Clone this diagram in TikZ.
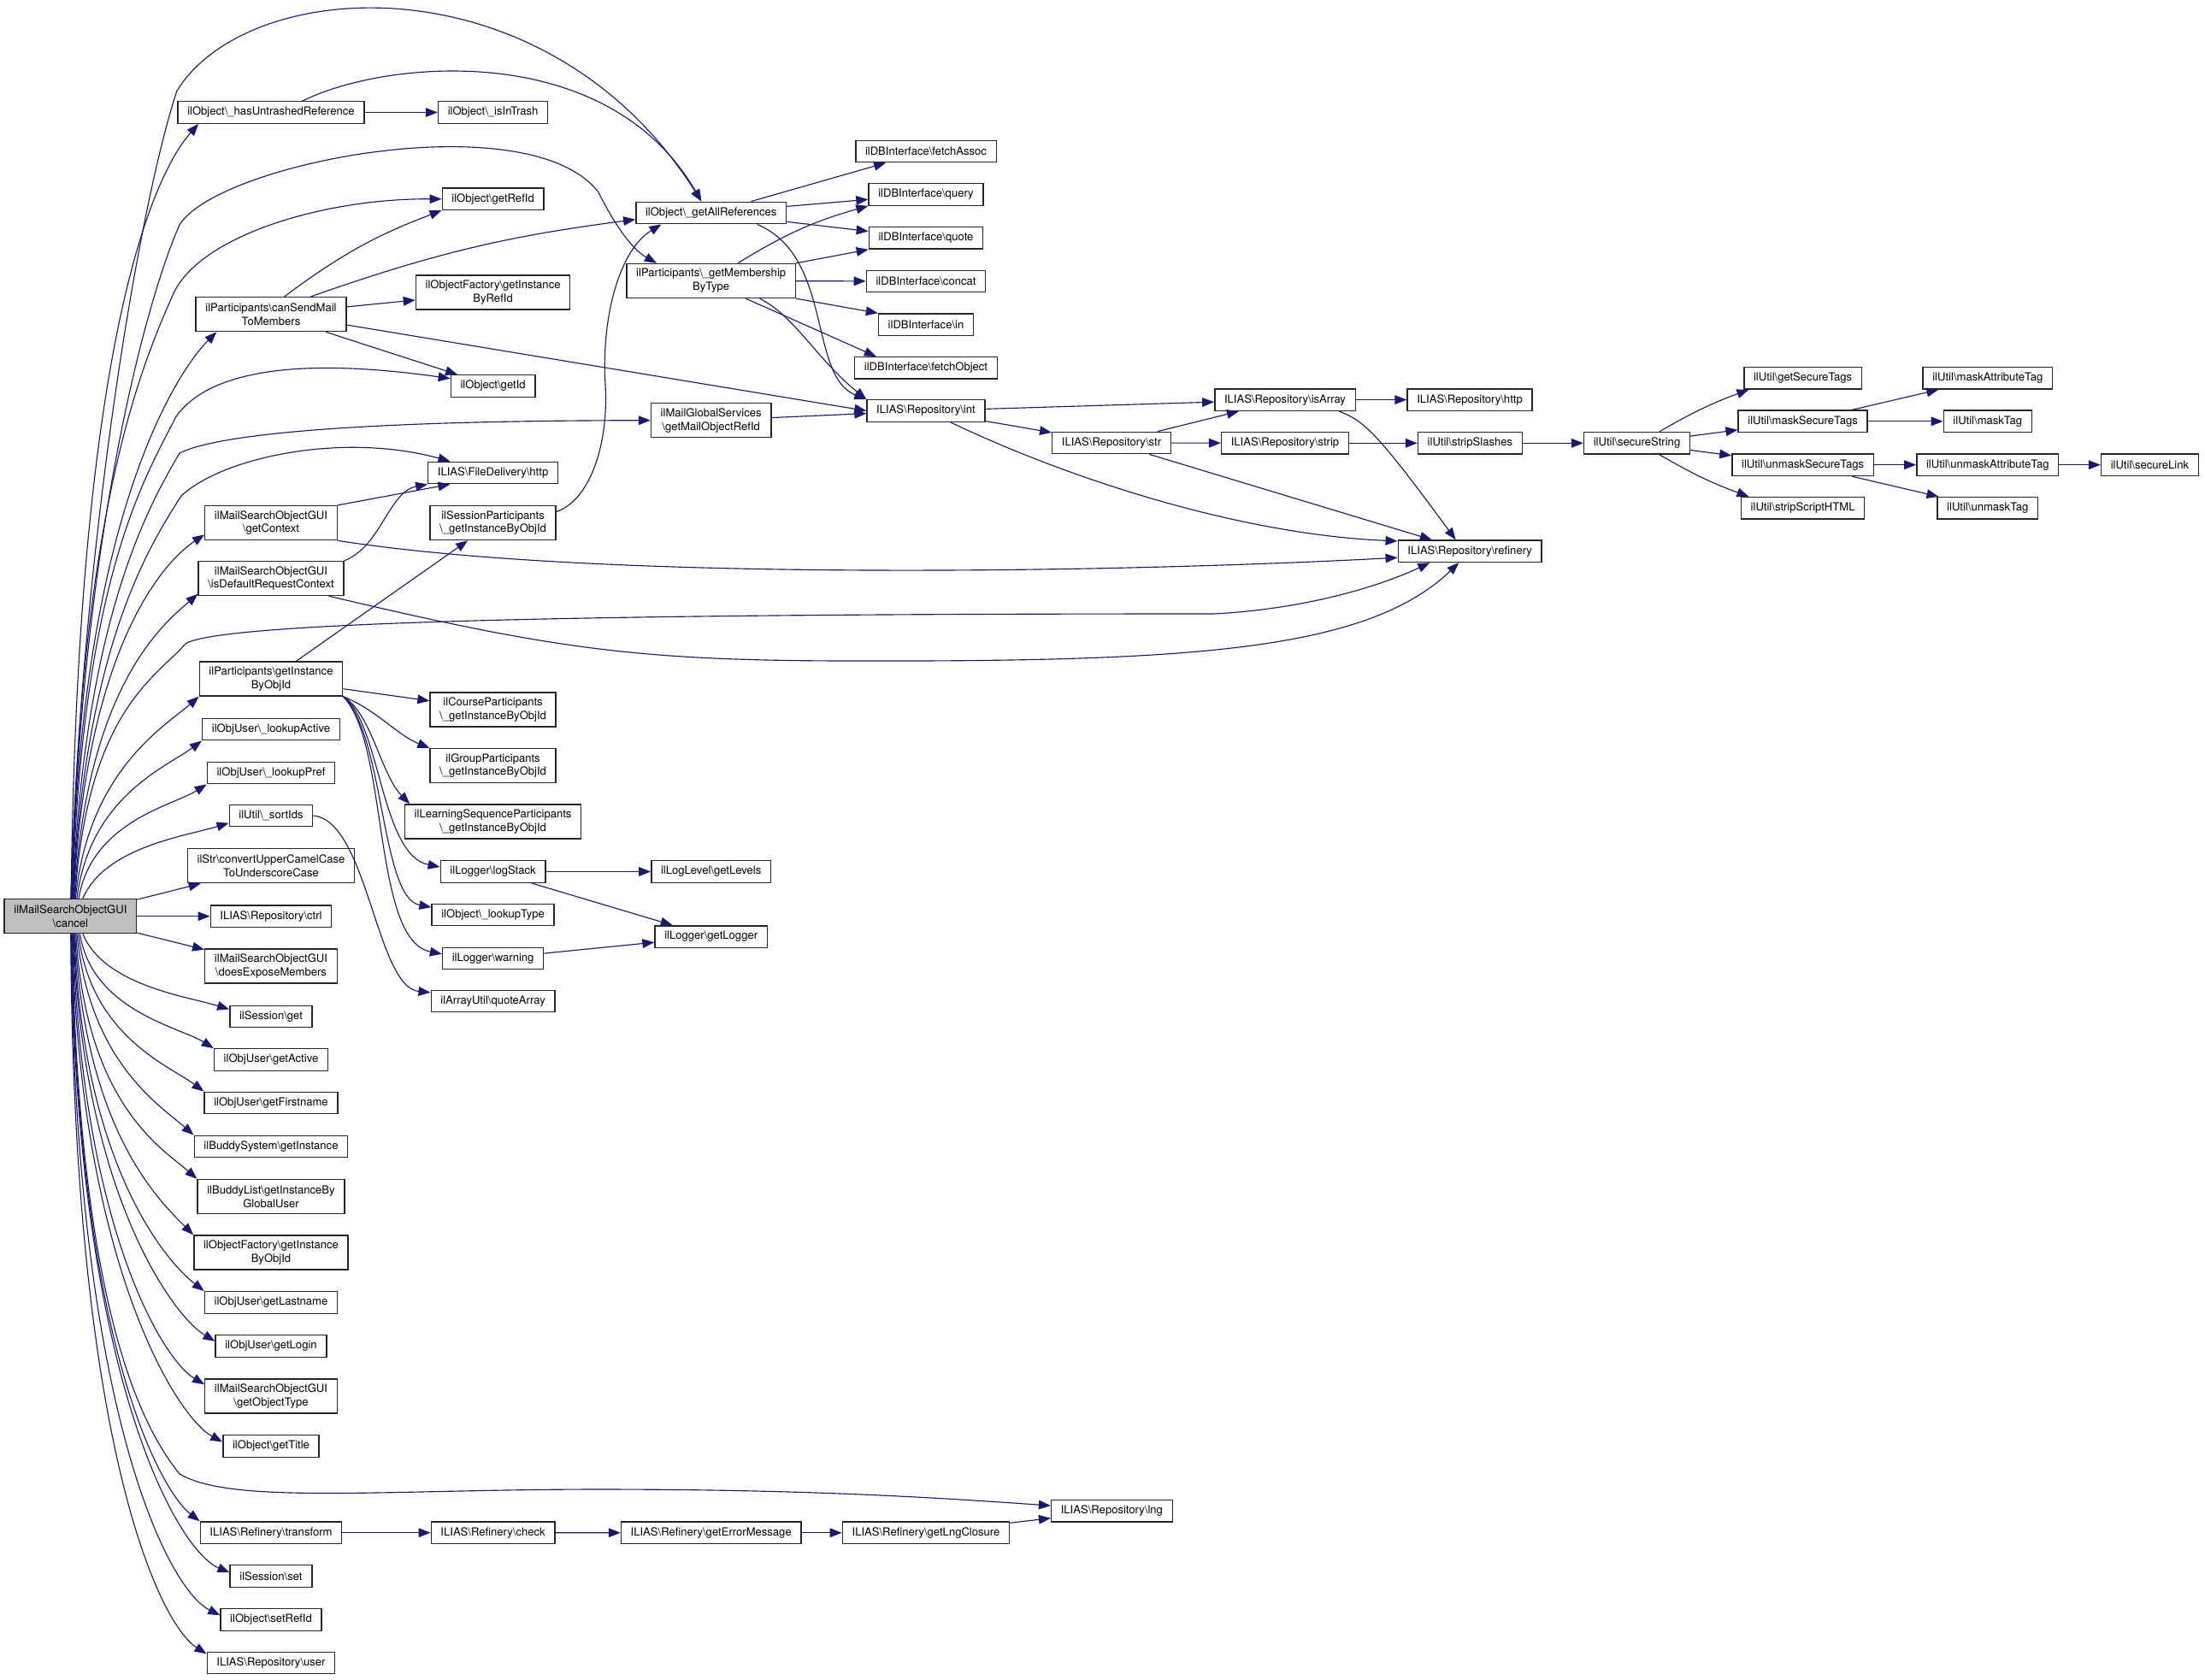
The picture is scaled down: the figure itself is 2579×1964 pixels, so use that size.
\documentclass[tikz,border=0pt]{standalone}
\usepackage{fontspec}
\setmainfont{TeX Gyre Heros}
\usetikzlibrary{arrows.meta}
\definecolor{edgeBlue}{RGB}{25,25,112}
\definecolor{rootGray}{RGB}{191,191,191}
\newcommand\nsSep{\textbackslash}

\begin{document}
\begin{tikzpicture}[x=0.75pt,y=-0.75pt,
  funcBox/.style={draw=black!85, line width=1.05pt, fill=white, inner xsep=8.4pt, inner ysep=2pt,
    minimum height=19.1pt, align=center, font=\fontsize{9.8}{11.8}\selectfont},
  funcBoxTwo/.style={funcBox, minimum height=30pt},
  callEdge/.style={draw=edgeBlue, line width=0.85pt, -{Triangle[length=10.5pt,width=8pt]}},
]
\useasboundingbox (0,0) rectangle (2579,1964);

% column 0 and 1
\node[funcBoxTwo, fill=rootGray] (cancel) at (82.4,1071.7) {ilMailSearchObjectGUI\\\nsSep cancel};
\node[funcBox] (hasUntrashed) at (317,131.5) {ilObject\nsSep\_hasUntrashedReference};
\node[funcBoxTwo] (canSendMail) at (317,367.6) {ilParticipants\nsSep canSendMail\\ToMembers};
\node[funcBoxTwo] (getContext) at (317,611.6) {ilMailSearchObjectGUI\\\nsSep getContext};
\node[funcBoxTwo] (isDefault) at (317,676.5) {ilMailSearchObjectGUI\\\nsSep isDefaultRequestContext};
\node[funcBoxTwo] (partInstance) at (317,794) {ilParticipants\nsSep getInstance\\ByObjId};
\node[funcBox] (lookupActive) at (317,853) {ilObjUser\nsSep\_lookupActive};
\node[funcBox] (lookupPref) at (317,904) {ilObjUser\nsSep\_lookupPref};
\node[funcBox] (sortIds) at (317,954) {ilUtil\nsSep\_sortIds};
\node[funcBoxTwo] (convertCase) at (317,1012.7) {ilStr\nsSep convertUpperCamelCase\\ToUnderscoreCase};
\node[funcBox] (repoCtrl) at (317,1071.7) {ILIAS\nsSep Repository\nsSep ctrl};
\node[funcBoxTwo] (exposeMembers) at (317,1130) {ilMailSearchObjectGUI\\\nsSep doesExposeMembers};
\node[funcBox] (sessionGet) at (317,1189) {ilSession\nsSep get};
\node[funcBox] (getActive) at (317,1239.5) {ilObjUser\nsSep getActive};
\node[funcBox] (getFirstname) at (317,1290) {ilObjUser\nsSep getFirstname};
\node[funcBox] (buddySystem) at (317,1341) {ilBuddySystem\nsSep getInstance};
\node[funcBoxTwo] (buddyList) at (317,1399.5) {ilBuddyList\nsSep getInstanceBy\\GlobalUser};
\node[funcBoxTwo] (factoryObjId) at (317,1465) {ilObjectFactory\nsSep getInstance\\ByObjId};
\node[funcBox] (getLastname) at (317,1523.5) {ilObjUser\nsSep getLastname};
\node[funcBox] (getLogin) at (317,1574.5) {ilObjUser\nsSep getLogin};
\node[funcBoxTwo] (getObjectType) at (317,1633) {ilMailSearchObjectGUI\\\nsSep getObjectType};
\node[funcBox] (getTitle) at (317,1691.5) {ilObject\nsSep getTitle};
\node[funcBox] (refTransform) at (317,1792.7) {ILIAS\nsSep Refinery\nsSep transform};
\node[funcBox] (sessionSet) at (317,1843.5) {ilSession\nsSep set};
\node[funcBox] (setRefId) at (317,1894.5) {ilObject\nsSep setRefId};
\node[funcBox] (repoUser) at (317,1945) {ILIAS\nsSep Repository\nsSep user};

% column 2
\node[funcBox] (isInTrash) at (576.6,131.5) {ilObject\nsSep\_isInTrash};
\node[funcBox] (getRefId) at (576.6,232.8) {ilObject\nsSep getRefId};
\node[funcBoxTwo] (factoryRefId) at (576.6,342) {ilObjectFactory\nsSep getInstance\\ByRefId};
\node[funcBox] (getId) at (576.6,451.5) {ilObject\nsSep getId};
\node[funcBox] (fileHttp) at (576.6,553) {ILIAS\nsSep FileDelivery\nsSep http};
\node[funcBoxTwo] (sessionPart) at (576.6,611.6) {ilSessionParticipants\\\nsSep\_getInstanceByObjId};
\node[funcBoxTwo] (courseInstance) at (576.6,830) {ilCourseParticipants\\\nsSep\_getInstanceByObjId};
\node[funcBoxTwo] (groupInstance) at (576.6,895.5) {ilGroupParticipants\\\nsSep\_getInstanceByObjId};
\node[funcBoxTwo] (lsoInstance) at (576.6,961) {ilLearningSequenceParticipants\\\nsSep\_getInstanceByObjId};
\node[funcBox] (logStack) at (576.6,1019.5) {ilLogger\nsSep logStack};
\node[funcBox] (lookupType) at (576.6,1070) {ilObject\nsSep\_lookupType};
\node[funcBox] (logWarning) at (576.6,1121) {ilLogger\nsSep warning};
\node[funcBox] (quoteArray) at (576.6,1171) {ilArrayUtil\nsSep quoteArray};
\node[funcBox] (refCheck) at (576.6,1792.7) {ILIAS\nsSep Refinery\nsSep check};

% column 3
\node[funcBox] (getAllRefs) at (831.7,249) {ilObject\nsSep\_getAllReferences};
\node[funcBoxTwo] (membership) at (831.7,328.5) {ilParticipants\nsSep\_getMembership\\ByType};
\node[funcBoxTwo] (mailServices) at (831.7,491.7) {ilMailGlobalServices\\\nsSep getMailObjectRefId};
\node[funcBox] (getLevels) at (831.7,1019.5) {ilLogLevel\nsSep getLevels};
\node[funcBox] (getLogger) at (831.7,1095.6) {ilLogger\nsSep getLogger};
\node[funcBox] (errorMessage) at (831.7,1792.8) {ILIAS\nsSep Refinery\nsSep getErrorMessage};

% column 4
\node[funcBox] (fetchAssoc) at (1083,177) {ilDBInterface\nsSep fetchAssoc};
\node[funcBox] (dbQuery) at (1083,227.5) {ilDBInterface\nsSep query};
\node[funcBox] (dbQuote) at (1083,278.4) {ilDBInterface\nsSep quote};
\node[funcBox] (dbConcat) at (1083,329) {ilDBInterface\nsSep concat};
\node[funcBox] (dbIn) at (1083,379.7) {ilDBInterface\nsSep in};
\node[funcBox] (fetchObject) at (1083,430.4) {ilDBInterface\nsSep fetchObject};
\node[funcBox] (repoInt) at (1083,480.5) {ILIAS\nsSep Repository\nsSep int};
\node[funcBox] (lngClosure) at (1083,1792.8) {ILIAS\nsSep Refinery\nsSep getLngClosure};

% columns 5 to 11
\node[funcBox] (repoStr) at (1300,518) {ILIAS\nsSep Repository\nsSep str};
\node[funcBox] (repoLng) at (1300.4,1767.3) {ILIAS\nsSep Repository\nsSep lng};
\node[funcBox] (isArray) at (1503,467.6) {ILIAS\nsSep Repository\nsSep isArray};
\node[funcBox] (repoStrip) at (1503,518.3) {ILIAS\nsSep Repository\nsSep strip};
\node[funcBox] (repoHttp) at (1719,467.6) {ILIAS\nsSep Repository\nsSep http};
\node[funcBox] (stripSlashes) at (1719.4,518.3) {ilUtil\nsSep stripSlashes};
\node[funcBox] (refinery) at (1719.2,644.8) {ILIAS\nsSep Repository\nsSep refinery};
\node[funcBox] (secureString) at (1914.5,518.3) {ilUtil\nsSep secureString};
\node[funcBox] (getSecureTags) at (2108.6,442.3) {ilUtil\nsSep getSecureTags};
\node[funcBox] (maskSecureTags) at (2108.6,492.8) {ilUtil\nsSep maskSecureTags};
\node[funcBox] (unmaskSecureTags) at (2108.6,543.7) {ilUtil\nsSep unmaskSecureTags};
\node[funcBox] (stripScript) at (2108.6,594.3) {ilUtil\nsSep stripScriptHTML};
\node[funcBox] (maskAttr) at (2324.8,442.3) {ilUtil\nsSep maskAttributeTag};
\node[funcBox] (maskTag) at (2324.8,492.8) {ilUtil\nsSep maskTag};
\node[funcBox] (unmaskAttr) at (2324.8,543.7) {ilUtil\nsSep unmaskAttributeTag};
\node[funcBox] (unmaskTag) at (2324.8,594.3) {ilUtil\nsSep unmaskTag};
\node[funcBox] (secureLink) at (2514.4,543.7) {ilUtil\nsSep secureLink};

% calls from cancel, upwards
\draw[callEdge] (cancel.89) .. controls (95,650) and (160,250) .. (206.7,106.7)
  .. controls (290,-30) and (640,-50) .. (getAllRefs.130);
\draw[callEdge] (cancel.88) .. controls +(8,-700) and +(-40,45) .. (hasUntrashed.189);
\draw[callEdge] (cancel.87) .. controls +(12,-420) and +(-40,90) .. (210,263)
  .. controls (255,190) and (620,120) .. (700,225)
  .. controls (720,265) and (740,292) .. (membership.162);
\draw[callEdge] (cancel.86) .. controls +(10,-450) and +(-40,90) .. (203,343)
  .. controls (235,275) and (380,232) .. (getRefId.west);
\draw[callEdge] (cancel.85) .. controls +(10,-450) and +(-45,45) .. (canSendMail.198);
\draw[callEdge] (cancel.84) .. controls +(12,-380) and +(-35,70) .. (206,487)
  .. controls (240,440) and (330,415) .. (getId.170);
\draw[callEdge] (cancel.83) .. controls +(14,-330) and +(-35,60) .. (210,530)
  .. controls (260,505) and (450,492) .. (mailServices.west);
\draw[callEdge] (cancel.82) .. controls +(15,-300) and +(-35,55) .. (212,580)
  .. controls (260,535) and (400,505) .. (fileHttp.165);
\draw[callEdge] (cancel.80) .. controls +(15,-300) and +(-45,30) .. (getContext.190);
\draw[callEdge] (cancel.78) .. controls +(15,-250) and +(-40,35) .. (isDefault.192);
\draw[callEdge] (cancel.76) .. controls +(15,-220) and +(-35,40) .. (217,753)
  .. controls (265,720) and (1000,718) .. (1420,718)
  .. controls (1530,712) and (1615,685) .. (refinery.196);
\draw[callEdge] (cancel.74) .. controls +(15,-150) and +(-40,35) .. (partInstance.south west);
\draw[callEdge] (cancel.70) .. controls +(15,-120) and +(-40,30) .. (lookupActive.south west);
\draw[callEdge] (cancel.65) .. controls +(15,-90) and +(-40,25) .. (lookupPref.south west);
\draw[callEdge] (cancel.55) .. controls +(25,-60) and +(-50,15) .. (sortIds.190);
\draw[callEdge] (cancel) -- (convertCase);
\draw[callEdge] (cancel) -- (repoCtrl);
\draw[callEdge] (cancel) -- (exposeMembers);

% calls from cancel, downwards
\draw[callEdge] (cancel.-55) .. controls +(25,60) and +(-50,-15) .. (sessionGet.170);
\draw[callEdge] (cancel.-62) .. controls +(15,90) and +(-40,-25) .. (getActive.north west);
\draw[callEdge] (cancel.-66) .. controls +(15,120) and +(-40,-30) .. (getFirstname.north west);
\draw[callEdge] (cancel.-70) .. controls +(15,150) and +(-40,-35) .. (buddySystem.north west);
\draw[callEdge] (cancel.-73) .. controls +(12,200) and +(-40,-35) .. (buddyList.north west);
\draw[callEdge] (cancel.-76) .. controls +(12,230) and +(-40,-40) .. (factoryObjId.north west);
\draw[callEdge] (cancel.-78) .. controls +(10,270) and +(-45,-35) .. (getLastname.north west);
\draw[callEdge] (cancel.-80) .. controls +(10,300) and +(-50,-30) .. (getLogin.175);
\draw[callEdge] (cancel.-82) .. controls +(10,340) and +(-50,-30) .. (getObjectType.170);
\draw[callEdge] (cancel.-84) .. controls +(8,380) and +(-55,-30) .. (getTitle.175);
\draw[callEdge] (cancel.-85) .. controls +(8,450) and +(-40,-50) .. (210,1724)
  .. controls (270,1760) and (450,1742) .. (700,1742)
  .. controls (950,1742) and (1100,1752) .. (repoLng.175);
\draw[callEdge] (cancel.-86) .. controls +(6,480) and +(-45,-35) .. (refTransform.north west);
\draw[callEdge] (cancel.-87) .. controls +(5,520) and +(-60,-25) .. (sessionSet.175);
\draw[callEdge] (cancel.-88) .. controls +(4,560) and +(-60,-30) .. (setRefId.175);
\draw[callEdge] (cancel.-89) .. controls +(3,600) and +(-55,-35) .. (repoUser.172);

% column 1 calls
\draw[callEdge] (hasUntrashed) -- (isInTrash);
\draw[callEdge] (hasUntrashed.20) .. controls (450,70) and (710,45) .. (getAllRefs.130);
\draw[callEdge] (canSendMail.53) to[bend left=8] (getRefId.south west);
\draw[callEdge] (canSendMail.24) to[bend left=6] (getAllRefs.185);
\draw[callEdge] (canSendMail) -- (factoryRefId);
\draw[callEdge] (canSendMail.-8) -- (repoInt.west);
\draw[callEdge] (canSendMail) -- (getId);
\draw[callEdge] (getContext.north east) -- (fileHttp.195);
\draw[callEdge] (getContext.south east) .. controls (700,680) and (1300,670) .. (refinery.185);
\draw[callEdge] (isDefault.north east) .. controls (445,640) and (455,575) .. (fileHttp.south west);
\draw[callEdge] (isDefault.343) .. controls (650,760) and (750,773) .. (1000,773)
  .. controls (1400,774) and (1600,760) .. (refinery.226);
\draw[callEdge] (partInstance) -- (sessionPart);
\draw[callEdge] (partInstance) -- (courseInstance);
\draw[callEdge] (partInstance.south east) .. controls (440,830) and (465,860) .. (groupInstance.north west);
\draw[callEdge] (partInstance.south east) .. controls (435,835) and (445,905) .. (lsoInstance.168);
\draw[callEdge] (partInstance.south east) .. controls (445,845) and (445,1000) .. (logStack.175);
\draw[callEdge] (partInstance.south east) .. controls (450,860) and (445,1050) .. (lookupType.173);
\draw[callEdge] (partInstance.south east) .. controls (455,870) and (435,1100) .. (logWarning.175);
\draw[callEdge] (sortIds.east) .. controls (430,960) and (440,1155) .. (quoteArray.172);

% column 2 calls
\draw[callEdge] (sessionPart.10) .. controls (690,585) and (712,520) .. (708,450)
  .. controls (703,370) and (725,292) .. (getAllRefs.193);
\draw[callEdge] (logStack) -- (getLevels);
\draw[callEdge] (logStack) -- (getLogger);
\draw[callEdge] (logWarning) -- (getLogger);
\draw[callEdge] (refTransform) -- (refCheck);

% column 3 calls
\draw[callEdge] (getAllRefs) -- (fetchAssoc);
\draw[callEdge] (getAllRefs) -- (dbQuery);
\draw[callEdge] (getAllRefs) -- (dbQuote);
\draw[callEdge] (getAllRefs.-14) .. controls (975,300) and (945,440) .. (repoInt.north west);
\draw[callEdge] (membership) to[bend left=8] (dbQuery.south west);
\draw[callEdge] (membership.north east) -- (dbQuote.south west);
\draw[callEdge] (membership) -- (dbConcat);
\draw[callEdge] (membership.south east) -- (dbIn.north west);
\draw[callEdge] (membership.-27) -- (fetchObject.167);
\draw[callEdge] (membership.-20) .. controls (930,370) and (955,420) .. (repoInt.north west);
\draw[callEdge] (mailServices) -- (repoInt);
\draw[callEdge] (refCheck) -- (errorMessage);
\draw[callEdge] (errorMessage) -- (lngClosure);
\draw[callEdge] (lngClosure) -- (repoLng);

% repository and util calls
\draw[callEdge] (repoInt) -- (isArray);
\draw[callEdge] (repoInt) -- (repoStr);
\draw[callEdge] (repoInt.-25) .. controls (1250,560) and (1450,625) .. (refinery.172);
\draw[callEdge] (repoStr) -- (isArray);
\draw[callEdge] (repoStr) -- (repoStrip);
\draw[callEdge] (repoStr) -- (refinery);
\draw[callEdge] (isArray) -- (repoHttp);
\draw[callEdge] (isArray.-12) .. controls (1595,492) and (1610,505) .. (refinery.141);
\draw[callEdge] (repoStrip) -- (stripSlashes);
\draw[callEdge] (stripSlashes) -- (secureString);
\draw[callEdge] (secureString.27) to[bend left=5] (getSecureTags.192);
\draw[callEdge] (secureString) -- (maskSecureTags);
\draw[callEdge] (secureString) -- (unmaskSecureTags);
\draw[callEdge] (secureString.-27) to[bend right=5] (stripScript.168);
\draw[callEdge] (maskSecureTags) -- (maskAttr);
\draw[callEdge] (maskSecureTags) -- (maskTag);
\draw[callEdge] (unmaskSecureTags) -- (unmaskAttr);
\draw[callEdge] (unmaskSecureTags) -- (unmaskTag);
\draw[callEdge] (unmaskAttr) -- (secureLink);
\end{tikzpicture}
\end{document}
